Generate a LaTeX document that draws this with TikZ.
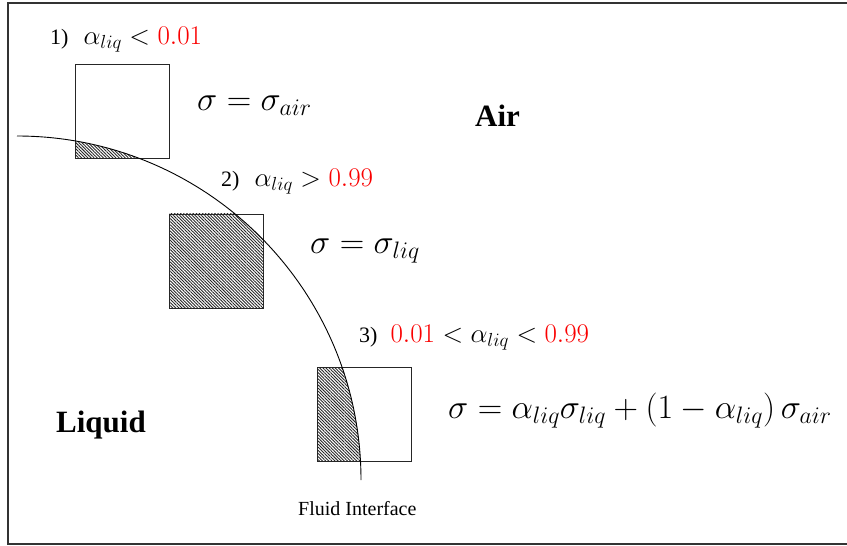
\RequirePackage{fix-cm}
\documentclass[tikz,border=0pt]{standalone}
\usepackage{fontspec}
\setmainfont{Liberation Serif}
\usetikzlibrary{patterns.meta,backgrounds}
\definecolor{redval}{RGB}{250,0,0}
\newcommand{\lblmath}[1]{{\fontsize{27}{30}\selectfont$#1$}}
\begin{document}
\begin{tikzpicture}[x=1pt,y=-1pt,
  hatch/.style={pattern={Lines[angle=-45,distance=2.2pt,line width=0.9pt]},pattern color=black!85},
  cell/.style={draw=black!85,line width=0.9pt,minimum size=94pt,inner sep=0pt},
  lbl/.style={anchor=base west,inner sep=0pt,font=\fontsize{22}{25}\selectfont},
  eqn/.style={anchor=base west,inner sep=0pt,font=\fontsize{34}{38}\selectfont},
  region/.style={anchor=base west,inner sep=0pt,font=\fontsize{31}{34}\selectfont\bfseries},
  note/.style={anchor=base west,inner sep=0pt,font=\fontsize{20}{22}\selectfont}]
\useasboundingbox (0,0) rectangle (847,546);
% frame
\draw[line width=1.4pt,black!80] (852,3) -- (8,3) -- (8,544) -- (852,544);
% cells
\node[cell] (c1) at (122.5,111) {};
\node[cell] (c2) at (216.5,261) {};
\node[cell] (c3) at (364.5,414.5) {};
\begin{scope}[on background layer]
  \foreach \c in {c1,c2,c3}{
    \begin{scope}
      \clip (\c.south west) rectangle (\c.north east);
      \fill[hatch] (17,480) circle (344pt);
    \end{scope}
  }
\end{scope}
% interface
\draw[line width=0.9pt] (17,136) arc[start angle=90,end angle=0,radius=344pt];
% labels
\node[lbl] (l1) at (50,44) {1)\hspace{15pt}\lblmath{\alpha_{liq} < \textcolor{redval}{0.01}}};
\node[eqn] (e1) at (197,110) {$\sigma = \sigma_{air}$};
\node[lbl] (l2) at (221,186) {2)\hspace{15pt}\lblmath{\alpha_{liq} > \textcolor{redval}{0.99}}};
\node[eqn] (e2) at (310,253) {$\sigma = \sigma_{liq}$};
\node[lbl] (l3) at (359,342) {3)\hspace{13pt}\lblmath{\textcolor{redval}{0.01} < \alpha_{liq} < \textcolor{redval}{0.99}}};
\node[eqn] (e3) at (448,418) {$\sigma = \alpha_{liq}\sigma_{liq} + \left(1 - \alpha_{liq}\right)\sigma_{air}$};
\node[region] (air) at (475,126) {Air};
\node[region] (liq) at (56,432) {Liquid};
\node[note] (fi) at (298,515) {Fluid Interface};
\end{tikzpicture}
\end{document}
